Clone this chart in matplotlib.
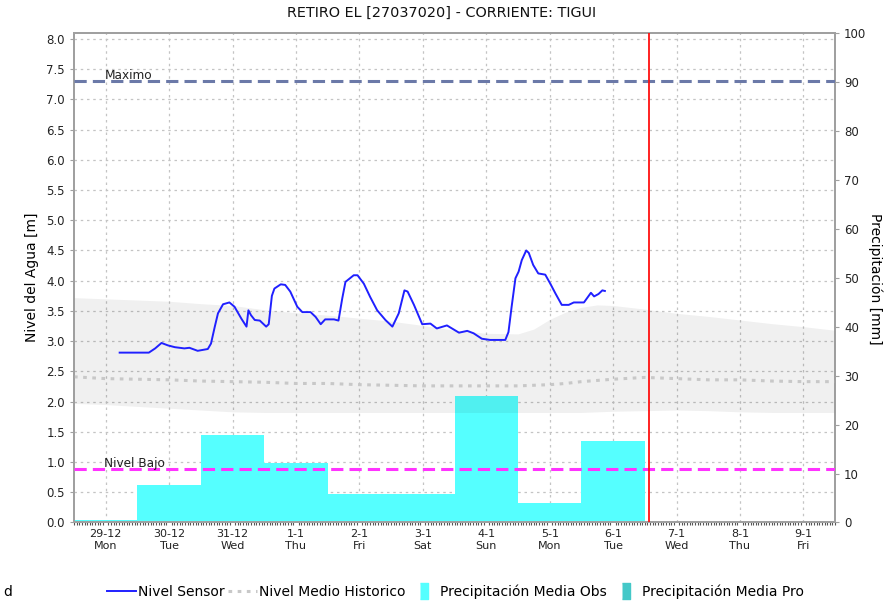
# Nivel del agua y precipitacion - estacion RETIRO EL [27037020]
import matplotlib
matplotlib.use("Agg")
import matplotlib.pyplot as plt
from matplotlib.lines import Line2D

# ── DATOS ────────────────────────────────────────────────────
# eje x en dias desde 29-12 (lunes) 00:00
fechas = ["29-12", "30-12", "31-12", "1-1", "2-1", "3-1",
          "4-1", "5-1", "6-1", "7-1", "8-1", "9-1"]
dias_sem = ["Mon", "Tue", "Wed", "Thu", "Fri", "Sat",
            "Sun", "Mon", "Tue", "Wed", "Thu", "Fri"]

# precipitacion media observada por dia [mm]
precip_obs = [0.5, 7.6, 17.8, 12.2, 5.9, 5.9, 25.9, 3.9, 16.6]

# nivel sensor [m]
sensor_t = [0.22, 0.68, 0.78, 0.88, 0.98, 1.09, 1.24, 1.32, 1.45, 1.61,
            1.66, 1.72, 1.77, 1.85, 1.95, 2.03, 2.14, 2.22, 2.25, 2.29,
            2.35, 2.43, 2.53, 2.57, 2.62, 2.66, 2.76, 2.83, 2.91, 3.02,
            3.10, 3.23, 3.31, 3.39, 3.46, 3.60, 3.67, 3.73, 3.78, 3.91,
            3.97, 4.07, 4.17, 4.28, 4.41, 4.52, 4.62, 4.71, 4.76, 4.86,
            4.99, 5.12, 5.22, 5.38, 5.57, 5.70, 5.80, 5.93, 6.06, 6.30,
            6.35, 6.40, 6.46, 6.51, 6.56, 6.63, 6.67, 6.74, 6.82, 6.93,
            7.01, 7.09, 7.19, 7.30, 7.38, 7.54, 7.65, 7.70, 7.77, 7.83, 7.87]
sensor_v = [2.81, 2.81, 2.88, 2.97, 2.93, 2.90, 2.88, 2.89, 2.84, 2.87,
            2.96, 3.24, 3.46, 3.61, 3.64, 3.57, 3.37, 3.24, 3.51, 3.43,
            3.35, 3.34, 3.24, 3.28, 3.75, 3.87, 3.94, 3.93, 3.82, 3.57,
            3.48, 3.48, 3.40, 3.28, 3.36, 3.36, 3.34, 3.71, 3.98, 4.09,
            4.09, 3.95, 3.73, 3.51, 3.35, 3.24, 3.46, 3.84, 3.82, 3.60,
            3.28, 3.29, 3.21, 3.26, 3.14, 3.17, 3.13, 3.04, 3.02, 3.02,
            3.15, 3.57, 4.04, 4.15, 4.34, 4.50, 4.46, 4.26, 4.12, 4.10,
            3.95, 3.79, 3.60, 3.60, 3.64, 3.64, 3.80, 3.74, 3.78, 3.84, 3.83]

# banda historica y nivel medio historico [m]
hist_t = [-0.5, 0.0, 0.5, 1.0, 1.5, 2.0, 2.5, 3.0, 3.5, 4.0, 4.5, 5.0, 5.5,
          6.0, 6.5, 6.75, 7.0, 7.25, 7.5, 7.75, 8.0, 8.5, 9.0, 9.5, 10.0,
          10.5, 11.0, 11.5]
hist_max = [3.72, 3.70, 3.68, 3.66, 3.62, 3.59, 3.52, 3.47, 3.43, 3.38, 3.33,
            3.26, 3.18, 3.13, 3.12, 3.20, 3.36, 3.48, 3.56, 3.60, 3.59, 3.53,
            3.46, 3.41, 3.35, 3.29, 3.24, 3.18]
hist_min = [1.97, 1.95, 1.92, 1.89, 1.86, 1.83, 1.82, 1.82, 1.82, 1.82, 1.82,
            1.82, 1.82, 1.82, 1.82, 1.82, 1.82, 1.82, 1.82, 1.83, 1.84, 1.85,
            1.86, 1.85, 1.83, 1.82, 1.82, 1.82]
hist_med = [2.41, 2.38, 2.37, 2.36, 2.34, 2.33, 2.32, 2.30, 2.30, 2.28, 2.27,
            2.26, 2.26, 2.26, 2.26, 2.27, 2.28, 2.30, 2.33, 2.35, 2.37, 2.40,
            2.38, 2.36, 2.36, 2.34, 2.33, 2.33]

nivel_maximo = 7.30
nivel_bajo = 0.88
ahora = 8.57   # 6-1 ~14h

# ── FIGURA ──────────────────────────────────────────────────
plt.rcParams["font.family"] = ["DejaVu Sans"]
fig = plt.figure(figsize=(8.84, 6.06), dpi=100)
ax = fig.add_axes([0.0837, 0.1378, 0.861, 0.808])
ax_pp = ax.twinx()
ax_top = ax.twinx()

spine_col = "#a0a0a0"
grid_kw = dict(color="#c4c4c4", linestyle=(0, (2, 3)), linewidth=0.9)

# eje nivel (izquierda): grilla
x_ticks = list(range(len(fechas)))
ax.set_xlim(-0.5, len(fechas) - 0.5)
ax.set_ylim(0, 8.1)
ax.set_yticks([i * 0.5 for i in range(17)])
ax.set_yticklabels([f"{i * 0.5:.1f}" for i in range(17)])
ax.set_xticks(x_ticks)
ax.set_xticklabels([f"{f}\n{d}" for f, d in zip(fechas, dias_sem)])
ax.set_xticks([i / 24 - 0.5 for i in range(24 * len(fechas) + 1)], minor=True)
ax.grid(True, **grid_kw)
ax.set_axisbelow(True)
ax.set_ylabel("Nivel del Agua [m]", fontsize=10, labelpad=5)
ax.tick_params(axis="both", labelsize=8, colors="#222222", length=3)
ax.tick_params(axis="y", labelsize=8.5)
ax.tick_params(axis="x", which="minor", length=2, width=0.8, color="#555555")
ax.tick_params(axis="x", which="major", length=0, pad=5)
ax.tick_params(axis="y", color=spine_col)

# eje precipitacion (derecha): barras
ax_pp.bar(range(len(precip_obs)), precip_obs, width=1.0, color="#55ffff",
          linewidth=0, zorder=2)
ax_pp.set_ylim(0, 100)
ax_pp.set_yticks(range(0, 101, 10))
ax_pp.tick_params(axis="y", labelsize=8.5, colors="#222222", length=3)
ax_pp.tick_params(axis="y", color=spine_col)

# capa superior: banda, medias, sensor y umbrales
ax_top.set_ylim(0, 8.1)
ax_top.set_yticks([])
ax_top.fill_between(hist_t, hist_min, hist_max, color="black", alpha=0.06,
                    linewidth=0, zorder=1)
ax_top.plot(hist_t, hist_med, color="#c8c8c8", linestyle=(0, (1.2, 1.8)),
            linewidth=2.2, zorder=2)
ax_top.plot(sensor_t, sensor_v, color="#2020ff", linewidth=1.4, zorder=4)
ax_top.axhline(nivel_maximo, color="#6b79a8", linestyle=(0, (4, 2)),
               linewidth=2.2, zorder=3)
ax_top.axhline(nivel_bajo, color="#ff33ff", linestyle=(0, (4, 2)),
               linewidth=2.2, zorder=3)
ax_top.axvline(ahora, color="#ff1010", linewidth=1.3, zorder=5)
ax_top.text(-0.02, nivel_maximo + 0.03, "Maximo", fontsize=8.7, color="#222222")
ax_top.text(-0.02, nivel_bajo + 0.03, "Nivel Bajo", fontsize=8.7, color="#222222")

for a in (ax, ax_pp, ax_top):
    for s in a.spines.values():
        s.set_color(spine_col)
        s.set_linewidth(1.2)

fig.suptitle("RETIRO EL [27037020] - CORRIENTE: TIGUI", fontsize=10.4,
             y=0.99, color="#111111")
fig.text(0.990, 0.54, "Precipitación [mm]", rotation=270, fontsize=10,
         ha="center", va="center")
fig.text(0.004, 0.023, "d", fontsize=10, va="center")

handles = [
    Line2D([], [], color="#2020ff", linewidth=1.4),
    Line2D([], [], color="#c8c8c8", linestyle=(0, (1.2, 1.8)), linewidth=2.2),
    Line2D([], [], color="#55ffff", linestyle="none", markersize=12,
           marker=[(-0.5, -1), (0.5, -1), (0.5, 1), (-0.5, 1)]),
    Line2D([], [], color="#44c8c8", linestyle="none", markersize=12,
           marker=[(-0.5, -1), (0.5, -1), (0.5, 1), (-0.5, 1)]),
]
labels = ["Nivel Sensor", "Nivel Medio Historico",
          "Precipitación Media Obs", "Precipitación Media Pro"]
fig.legend(handles, labels, loc="center", bbox_to_anchor=(0.515, 0.023),
           ncol=4, frameon=False, fontsize=10, handlelength=2.1,
           handletextpad=0.1, columnspacing=0.3)

fig.savefig("out.png", dpi=100)
